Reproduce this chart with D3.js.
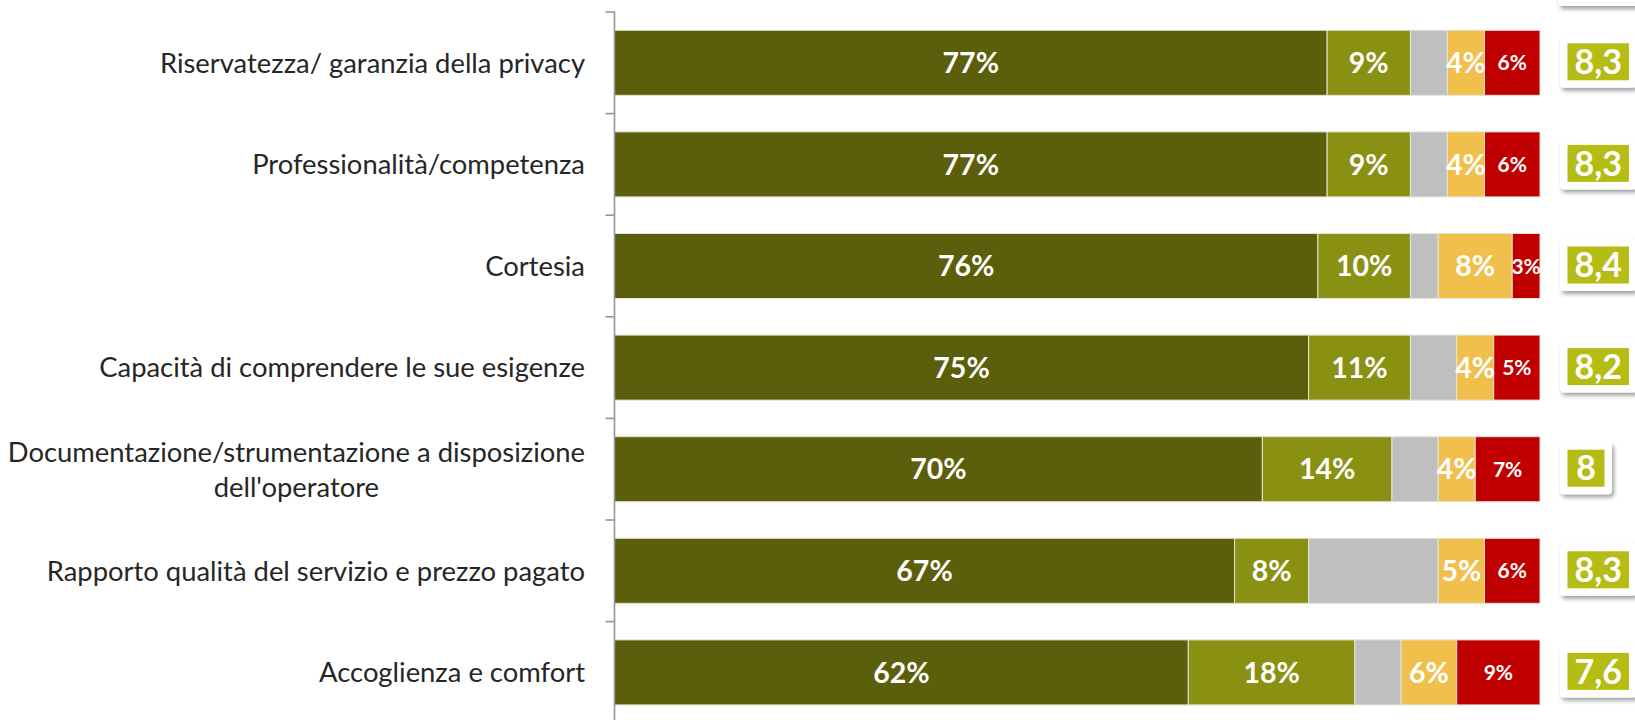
<!DOCTYPE html>
<html>
<head>
<meta charset="utf-8">
<script src="https://cdn.jsdelivr.net/npm/d3@7"></script>
<style>
  html, body { margin: 0; padding: 0; background: #ffffff; }
  svg { display: block; }
  text { font-family: Lato, "Open Sans", sans-serif; }
</style>
</head>
<body>
<script>
// Giudizi sui singoli aspetti del servizio (% di rispondenti) e voto medio
const categories = [
  "Riservatezza/ garanzia della privacy",
  "Professionalità/competenza",
  "Cortesia",
  "Capacità di comprendere le sue esigenze",
  "Documentazione/strumentazione a disposizione\ndell'operatore",
  "Rapporto qualità del servizio e prezzo pagato",
  "Accoglienza e comfort"
];
const moltoSoddisfatti = [77, 77, 76, 75, 70, 67, 62];
const abbastanzaSoddisfatti = [9, 9, 10, 11, 14, 8, 18];
const nonSa = [4, 4, 3, 5, 5, 14, 5];
const pocoSoddisfatti = [4, 4, 8, 4, 4, 5, 6];
const perNullaSoddisfatti = [6, 6, 3, 5, 7, 6, 9];
const votoMedio = [8.3, 8.3, 8.4, 8.2, 8.0, 8.3, 7.6];

const seriesKeys = ["molto", "abbastanza", "nonsa", "poco", "pernulla"];
const seriesColors = ["#5b5e0a", "#8a9011", "#bfbfbf", "#f0bf4c", "#c00000"];
const seriesShowLabel = [true, true, false, true, true];
const seriesLabelSize = [28.5, 28.5, 28.5, 28.5, 21];

const W = 1635, H = 720;
const rows = categories.map((c, i) => ({
  cat: c,
  molto: moltoSoddisfatti[i],
  abbastanza: abbastanzaSoddisfatti[i],
  nonsa: nonSa[i],
  poco: pocoSoddisfatti[i],
  pernulla: perNullaSoddisfatti[i],
  voto: votoMedio[i]
}));

const svg = d3.select("body").append("svg").attr("width", W).attr("height", H);

const defs = svg.append("defs");
const f = defs.append("filter").attr("id", "ombra")
  .attr("x", "-20%").attr("y", "-30%").attr("width", "150%").attr("height", "170%");
f.append("feDropShadow").attr("dx", 2).attr("dy", 3).attr("stdDeviation", 2.2)
  .attr("flood-color", "#000").attr("flood-opacity", 0.38);

const x = d3.scaleLinear().domain([0, 100]).range([614.5, 1540]);
const y = d3.scaleBand().domain(categories).range([12, 723.2])
  .paddingInner(0.36).paddingOuter(0.18);

const stack = d3.stack().keys(seriesKeys)(rows);

// segments
const layers = svg.append("g").selectAll("g").data(stack).join("g")
  .attr("fill", (d, i) => seriesColors[i]);
layers.selectAll("rect").data(d => d).join("rect")
  .attr("x", d => x(d[0]))
  .attr("y", d => y(d.data.cat))
  .attr("width", d => x(d[1]) - x(d[0]))
  .attr("height", y.bandwidth())
  .attr("stroke", "#e4e4d6")
  .attr("stroke-width", 1);

// percentage labels
stack.forEach((layer, li) => {
  if (!seriesShowLabel[li]) return;
  svg.append("g").selectAll("text").data(layer).join("text")
    .attr("x", d => (x(d[0]) + x(d[1])) / 2)
    .attr("y", d => y(d.data.cat) + y.bandwidth() / 2)
    .attr("dy", "0.36em")
    .attr("text-anchor", "middle")
    .attr("fill", "#ffffff")
    .attr("font-weight", 700)
    .attr("font-size", seriesLabelSize[li])
    .text(d => (d[1] - d[0]) + "%");
});

// category axis
const step = y.step();
const y0 = y.range()[0];
const axis = svg.append("g");
axis.append("line")
  .attr("x1", x(0)).attr("x2", x(0))
  .attr("y1", y0 - 0.5).attr("y2", H)
  .attr("stroke", "#969696").attr("stroke-width", 1.6);
axis.selectAll("line.tick").data(d3.range(categories.length + 1)).join("line")
  .attr("class", "tick")
  .attr("x1", x(0) - 9).attr("x2", x(0))
  .attr("y1", i => y0 + i * step).attr("y2", i => y0 + i * step)
  .attr("stroke", "#969696").attr("stroke-width", 1.6);

const labelRight = 585;
const lineGap = 35;
categories.forEach(c => {
  const lines = c.split("\n");
  const cy = y(c) + y.bandwidth() / 2;
  const t = axis.append("text")
    .attr("fill", "#262626")
    .attr("font-size", 27.4);
  const spans = lines.map((l, k) => t.append("tspan")
    .attr("y", cy + (k - (lines.length - 1) / 2) * lineGap)
    .attr("dy", "0.36em")
    .text(l));
  if (lines.length === 1) {
    t.attr("text-anchor", "end");
    spans[0].attr("x", labelRight);
  } else {
    const widths = spans.map(s => s.node().getComputedTextLength());
    const cx = labelRight - d3.max(widths) / 2;
    t.attr("text-anchor", "middle");
    spans.forEach(s => s.attr("x", cx));
  }
});

// score boxes
const boxLeft = 1560;
const score = svg.append("g");
// header box of the score column, above the first row
score.append("rect")
  .attr("x", boxLeft - 2).attr("y", -46).attr("width", 110).attr("height", 52)
  .attr("rx", 4).attr("fill", "#ffffff").attr("filter", "url(#ombra)");

const fmtVoto = v => String(+v.toFixed(1)).replace(".", ",");
rows.forEach(r => {
  const cy = y(r.cat) + y.bandwidth() / 2 - 1;
  const g = score.append("g");
  const outer = g.append("rect").attr("fill", "#ffffff").attr("rx", 4)
    .attr("filter", "url(#ombra)");
  const inner = g.append("rect").attr("fill", "#b5bd15");
  const txt = g.append("text")
    .attr("fill", "#ffffff").attr("font-weight", 700).attr("font-size", 34)
    .attr("dy", "0.36em").attr("y", cy)
    .text(fmtVoto(r.voto));
  const tw = txt.node().getComputedTextLength();
  const innerW = Math.max(tw + 14, 37), innerH = 37, pad = 7.5;
  outer.attr("x", boxLeft).attr("y", cy - innerH / 2 - pad)
    .attr("width", innerW + 2 * pad).attr("height", innerH + 2 * pad);
  inner.attr("x", boxLeft + pad).attr("y", cy - innerH / 2)
    .attr("width", innerW).attr("height", innerH);
  txt.attr("x", boxLeft + pad + innerW / 2).attr("text-anchor", "middle");
});
</script>
</body>
</html>
